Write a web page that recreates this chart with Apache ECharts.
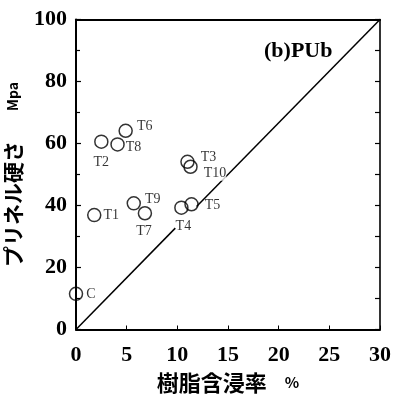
<!DOCTYPE html>
<html>
<head>
<meta charset="utf-8">
<script src="https://cdn.jsdelivr.net/npm/echarts@6/dist/echarts.min.js"></script>
<style>
html,body{margin:0;padding:0;background:#fff;}
#c{width:393px;height:396px;}
</style>
</head>
<body>
<div id="c"></div>
<script>
// ---- data ----
var pointNames = ['C','T1','T2','T3','T4','T5','T6','T7','T8','T9','T10'];
var resinContent = [0, 1.8, 2.5, 11.0, 10.4, 11.4, 4.9, 6.8, 4.1, 5.7, 11.3];
var brinellHardness = [11.5, 36.9, 60.6, 54.1, 39.3, 40.4, 64.1, 37.5, 59.7, 40.7, 52.5];
var diagonalLow = [[0, 0], [9.8, 32.7]];
var diagonalHigh = [[11.9, 39.7], [30, 100]];
var xTicks = [0, 5, 10, 15, 20, 25, 30];
var yTicks = [0, 20, 40, 60, 80, 100];

// ---- label placement (style only) ----
var labelLayout = {
  C:  {position:'right', offset:[-2,0]},
  T1: {position:'right', offset:[-3,0]},
  T2: {position:'bottom', offset:[0,1]},
  T3: {position:'right', offset:[1,-4]},
  T4: {position:'bottom', offset:[2,-1]},
  T5: {position:'right', offset:[1,1]},
  T6: {position:'right', offset:[-1,-4]},
  T7: {position:'bottom', offset:[-1,-1]},
  T8: {position:'right', offset:[-4,3]},
  T9: {position:'right', offset:[-1,-4]},
  T10:{position:'right', offset:[1,7], backgroundColor:'#fff'}
};

var pts = pointNames.map(function(n, i){
  var L = labelLayout[n];
  return {
    name: n,
    value: [resinContent[i], brinellHardness[i]],
    label: Object.assign({show:true, formatter: n, distance: 5}, L)
  };
});

var chart = echarts.init(document.getElementById('c'), null, {renderer:'canvas'});
var serif = '"Liberation Serif","Times New Roman",serif';
var cjk = '"Noto Sans CJK JP","Noto Sans",sans-serif';

chart.setOption({
  animation: false,
  backgroundColor: '#fff',
  grid: {left: 76, right: 13, top: 19.5, bottom: 66.5, containLabel: false, outerBoundsMode: 'none'},
  title: {
    text: '(b)PUb',
    left: 259, top: 35,
    textStyle: {fontFamily: serif, fontWeight: 'bold', fontSize: 22, color: '#000'}
  },
  xAxis: [{
    type: 'value', min: 0, max: 30, interval: 5, position: 'bottom',
    axisLine: {show: true, onZero: false, lineStyle: {color: '#000', width: 2}},
    axisTick: {show: true, inside: true, length: 4, lineStyle: {color: '#000', width: 1}},
    axisLabel: {margin: 15, fontFamily: serif, fontWeight: 'bold', fontSize: 22, color: '#000',
      formatter: function(v){ return xTicks.indexOf(v) >= 0 ? String(v) : ''; }},
    splitLine: {show: false},
    name: '{a|樹脂含浸率}{g| }{p|%}',
    nameLocation: 'middle', nameGap: 37,
    nameTextStyle: {rich: {
      a: {fontFamily: cjk, fontWeight: 'bold', fontSize: 22, color: '#000'},
      g: {width: 18, fontSize: 10},
      p: {fontFamily: cjk, fontWeight: 'bold', fontSize: 15, color: '#000'}
    }}
  }, {
    type: 'value', min: 0, max: 30, position: 'top',
    axisLine: {show: true, onZero: false, lineStyle: {color: '#000', width: 2}},
    axisTick: {show: false}, axisLabel: {show: false}, splitLine: {show: false}
  }],
  yAxis: [{
    type: 'value', min: 0, max: 100, interval: 20, position: 'left',
    axisLine: {show: true, onZero: false, lineStyle: {color: '#000', width: 2}},
    axisTick: {show: true, inside: true, length: 5, lineStyle: {color: '#000', width: 1.2}},
    minorTick: {show: true, splitNumber: 2, length: 4, lineStyle: {color: '#000', width: 1.2}},
    axisLabel: {margin: 9, fontFamily: serif, fontWeight: 'bold', fontSize: 22, color: '#000',
      formatter: function(v){ return yTicks.indexOf(v) >= 0 ? String(v) : ''; }},
    splitLine: {show: false},
    name: '{a|プリネル硬さ}{g| }{p|Mpa}',
    nameLocation: 'middle', nameGap: 44, nameRotate: 90,
    nameTextStyle: {rich: {
      a: {fontFamily: cjk, fontWeight: 'bold', fontSize: 21, color: '#000'},
      g: {width: 30, fontSize: 10},
      p: {fontFamily: cjk, fontWeight: 'bold', fontSize: 14, color: '#000'}
    }}
  }, {
    type: 'value', min: 0, max: 100, interval: 10, position: 'right',
    axisLine: {show: true, onZero: false, lineStyle: {color: '#000', width: 1.6}},
    axisTick: {show: true, inside: true, length: 5, lineStyle: {color: '#000', width: 1.2}},
    axisLabel: {show: false}, splitLine: {show: false}
  }],
  series: [{
    type: 'line', data: diagonalLow, symbol: 'none', silent: true, z: 2,
    lineStyle: {color: '#000', width: 1.5}
  }, {
    type: 'line', data: diagonalHigh, symbol: 'none', silent: true, z: 2,
    lineStyle: {color: '#000', width: 1.5}
  }, {
    type: 'scatter', data: pts, symbol: 'circle', symbolSize: 13, z: 5,
    itemStyle: {color: 'rgba(255,255,255,0)', borderColor: '#000', borderWidth: 1.5},
    label: {color: '#000', fontFamily: serif, fontSize: 14}
  }]
});
</script>
</body>
</html>
